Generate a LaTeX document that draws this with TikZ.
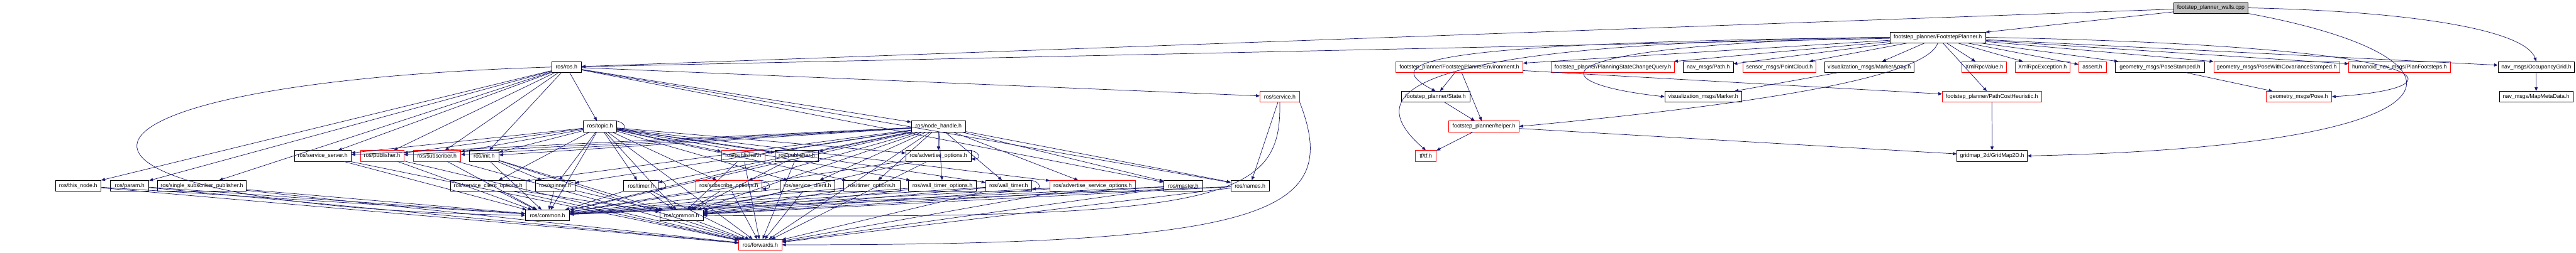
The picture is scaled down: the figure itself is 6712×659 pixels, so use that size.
\documentclass[tikz,border=0pt]{standalone}
\usepackage{fontspec}
\setmainfont{Liberation Sans}
\usetikzlibrary{arrows.meta}
\definecolor{navyline}{HTML}{191970}
\definecolor{missred}{HTML}{FF0000}
\definecolor{rootgray}{HTML}{BFBFBF}

\begin{document}
\begin{tikzpicture}[x=1pt, y=-1pt, font=\fontsize{14.5}{16}\selectfont,
  >={Triangle[length=10pt,width=8pt]},
  hdr/.style={draw=black, fill=white, line width=1.2pt, minimum height=28pt, inner sep=0pt},
  hdrmiss/.style={hdr, draw=missred},
  hdrroot/.style={hdr, fill=rootgray},
  dep/.style={->, draw=navyline, line width=1.2pt}]
\useasboundingbox (0,0) rectangle (6712,659);
% rows of the include graph
\foreach \ry/\items in {
  20.5/{root/5760.5/193/hdrroot/{footstep\_planner\_walls.cpp}},
  97.5/{fp/5049/248/hdr/{footstep\_planner/FootstepPlanner.h}},
  175/{ros/1476/78/hdr/{ros/ros.h},
       fpenv/3802.5/331/hdrmiss/{footstep\_planner/FootstepPlannerEnvironment.h},
       query/4202.5/321/hdrmiss/{footstep\_planner/PlanningStateChangeQuery.h},
       path/4451/130/hdr/{nav\_msgs/Path.h},
       cloud/4636.5/189/hdrmiss/{sensor\_msgs/PointCloud.h},
       markerarray/4870.5/233/hdr/{visualization\_msgs/MarkerArray.h},
       xmlvalue/5170/116/hdrmiss/{XmlRpcValue.h},
       xmlexc/5322/142/hdrmiss/{XmlRpcException.h},
       assert/5452/72/hdrmiss/{assert.h},
       posestamped/5628/232/hdr/{geometry\_msgs/PoseStamped.h},
       posecov/5932/328/hdrmiss/{geometry\_msgs/PoseWithCovarianceStamped.h},
       planfs/6252/264/hdrmiss/{humanoid\_nav\_msgs/PlanFootsteps.h},
       occgrid/6608.5/199/hdr/{nav\_msgs/OccupancyGrid.h}},
  252.5/{service/3334.5/103/hdrmiss/{ros/service.h},
       state/3740.5/179/hdr/{footstep\_planner/State.h},
       marker/4438/200/hdr/{visualization\_msgs/Marker.h},
       pch/5190/258/hdrmiss/{footstep\_planner/PathCostHeuristic.h},
       pose/5989.5/171/hdrmiss/{geometry\_msgs/Pose.h},
       mapmeta/6608/192/hdr/{nav\_msgs/MapMetaData.h}},
  330/{topic/1563.5/87/hdr/{ros/topic.h},
       nh/2445.5/141/hdr/{ros/node\_handle.h},
       helper/3866.5/183/hdrmiss/{footstep\_planner/helper.h}},
  407/{srvserver/841/148/hdr/{ros/service\_server.h},
       pub1/995.5/113/hdrmiss/{ros/publisher.h},
       sub/1138.5/123/hdrmiss/{ros/subscriber.h},
       init/1261.5/77/hdr/{ros/init.h},
       pub2/1937/114/hdrmiss/{ros/publisher.h},
       pub3/2076/114/hdr/{ros/publisher.h},
       advopt/2445/170/hdr/{ros/advertise\_options.h},
       tf/3715/54/hdrmiss/{tf/tf.h},
       gridmap/5190.5/183/hdr/{gridmap\_2d/GridMap2D.h}},
  485/{thisnode/203.5/119/hdr/{ros/this\_node.h},
       param/338/100/hdr/{ros/param.h},
       ssp/526/232/hdr/{ros/single\_subscriber\_publisher.h},
       sco/1272/196/hdr/{ros/service\_client\_options.h},
       spinner/1446.5/103/hdr/{ros/spinner.h},
       timer/1670/90/hdr/{ros/timer.h},
       subopt/1899/172/hdrmiss/{ros/subscribe\_options.h},
       srvclient/2103.5/143/hdr/{ros/service\_client.h},
       timeropt/2271.5/147/hdr/{ros/timer\_options.h},
       wto/2455.5/177/hdr/{ros/wall\_timer\_options.h},
       walltimer/2628/120/hdr/{ros/wall\_timer.h},
       aso/2847/222/hdrmiss/{ros/advertise\_service\_options.h},
       master/3083/102/hdr/{ros/master.h},
       names/3257/100/hdr/{ros/names.h}},
  562/{common1/1426.5/115/hdr/{ros/common.h},
       common2/1775.5/113/hdr/{ros/common.h}},
  639/{forwards/1981/112/hdrmiss/{ros/forwards.h}}}{
  \foreach \nm/\cx/\bw/\sty/\lbl in \items
    \node[\sty, minimum width=\bw pt] (\nm) at (\cx,\ry) {\lbl};
}
% straight includes
\foreach \src/\dsts in {
  root/{fp,ros},
  fp/{ros,fpenv,query,path,cloud,markerarray,xmlvalue,xmlexc,assert,posestamped,posecov,planfs,occgrid,pch},
  fpenv/{state,helper,pch}, state/{helper}, helper/{tf,gridmap}, pch/{gridmap},
  markerarray/{marker}, posestamped/{pose}, occgrid/{mapmeta},
  ros/{topic,nh,service,srvserver,pub1,sub,init,thisnode,param,ssp,master,names},
  topic/{sub,init,sco,spinner,timer,subopt,srvclient,pub2,pub3,common1,common2,forwards,advopt,timeropt,wto,walltimer,aso,srvserver,pub1},
  nh/{advopt,timeropt,wto,walltimer,aso,sco,spinner,subopt,srvclient,timer,sub,init,srvserver,pub1,pub2,pub3,common1,common2,forwards,master,names},
  service/{names},
  srvserver/{common1,forwards}, pub1/{common1,forwards}, sub/{common1,forwards},
  init/{spinner,common1,common2,forwards},
  thisnode/{common1,forwards}, param/{common1,forwards}, ssp/{common1,forwards},
  sco/{common1,common2,forwards}, spinner/{common1,common2},
  timer/{common1,common2,forwards}, subopt/{common1,common2,forwards},
  srvclient/{common1,common2,forwards}, pub2/{common2,forwards}, pub3/{common1,common2,forwards},
  advopt/{common1,common2,forwards}, timeropt/{common1,common2}, wto/{common1,common2},
  walltimer/{common1,common2,forwards}, aso/{common1,common2,forwards},
  master/{common1,common2,forwards}, names/{common1,common2,forwards},
  common2/{forwards}}{
  \foreach \dst in \dsts
    \draw[dep] (\src) -- (\dst);
}
% curved includes
\draw[dep] (root.east) .. controls (6300,30) and (6580,80) .. (occgrid.north);
\draw[dep] (root.south east) .. controls (6480,150) and (6480,380) .. (gridmap.east);
\draw[dep] (fp.east) .. controls (6400,120) and (6430,230) .. (pose.east);
\draw[dep] (fp.west) .. controls (3700,112) and (3590,160) .. (state.north);
\draw[dep] (fp.west) .. controls (3640,112) and (3540,240) .. (tf.north);
\draw[dep] (fp.west) .. controls (3990,118) and (4000,215) .. (marker.west);
\draw[dep] (fp.south) .. controls (5020,200) and (4600,270) .. (helper.east);
\draw[dep] (ros.west) .. controls (10,220) and (10,540) .. (common1.west);
\draw[dep] (service.south) .. controls (3340,520) and (3200,575) .. (common2.east);
\draw[dep] (service.south east) .. controls (3500,560) and (3300,640) .. (forwards.east);
% self includes
\foreach \nm in {topic,timer,subopt,walltimer,advopt}
  \draw[dep] ([xshift=-8pt]\nm.north east) .. controls +(28pt,0pt) and +(28pt,0pt) .. ([yshift=-8pt]\nm.east);
\end{tikzpicture}
\end{document}
